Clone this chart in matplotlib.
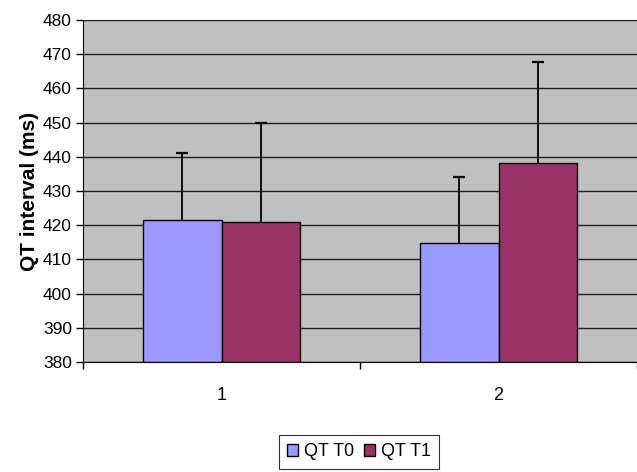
import matplotlib
matplotlib.use("Agg")
import matplotlib.pyplot as plt
import numpy as np

categories = ["1", "2"]
series_names = ["QT T0", "QT T1"]
qt_t0 = [421.5, 414.7]
qt_t1 = [420.9, 438.1]
err_t0 = [19.6, 19.3]
err_t1 = [29.1, 29.5]
colors = ["#9999FF", "#993366"]

plt.rcParams['font.family'] = ['Liberation Sans', 'DejaVu Sans']

fig = plt.figure(figsize=(6.37, 4.72), dpi=100)
ax = fig.add_axes([83/637, 110/472, 554/637, 342/472])
ax.set_facecolor("#C0C0C0")

x = np.arange(1, len(categories) + 1)
w = 0.283
base = 380
for vals, errs, col, off, name in [(qt_t0, err_t0, colors[0], -w/2, series_names[0]),
                                   (qt_t1, err_t1, colors[1], w/2, series_names[1])]:
    heights = [v - base for v in vals]
    ax.bar(x + off, heights, width=w, bottom=base, color=col, edgecolor="black",
           linewidth=1.0, label=name, zorder=3)
    eb = ax.errorbar(x + off, vals, yerr=[np.zeros(len(errs)), errs], fmt="none",
                     ecolor="black", elinewidth=1.3, capsize=4, capthick=1.6, zorder=4)
    caps = eb.lines[1]
    if len(caps) >= 2:
        caps[0].set_visible(False)

ax.set_ylim(380, 480)
ax.set_xlim(0.5, 2.5)
ax.set_yticks(np.arange(380, 481, 10))
ax.yaxis.grid(True, color="#202020", linewidth=1.0, zorder=0)
ax.set_axisbelow(True)

ax.set_xticks([0.5, 1.5, 2.5])
ax.set_xticklabels([])
ax.set_xticks(x, minor=True)
ax.set_xticklabels(categories, minor=True)
ax.tick_params(axis="x", which="minor", length=0, pad=18, labelsize=13)
ax.tick_params(axis="x", which="major", length=5, width=1, color="black")
ax.tick_params(axis="y", length=5, width=1, labelsize=12.5, pad=3)

for s in ["top", "right"]:
    ax.spines[s].set_visible(False)
ax.spines["left"].set_color("black")
ax.spines["bottom"].set_color("black")

ax.set_ylabel("QT interval (ms)", fontsize=15, fontweight="bold", labelpad=3)

leg = fig.legend(loc="center", bbox_to_anchor=(359/637, 1 - 452/472), ncol=2,
                 frameon=True, fancybox=False, edgecolor="black", fontsize=13,
                 handlelength=0.6, handleheight=0.6, handletextpad=0.3,
                 columnspacing=0.6, borderpad=0.45, borderaxespad=0)
leg.get_frame().set_linewidth(0.8)

fig.savefig("out.png", dpi=100)
